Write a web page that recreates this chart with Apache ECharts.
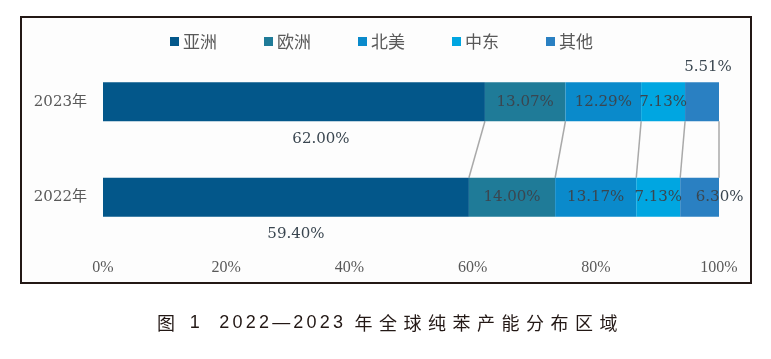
<!DOCTYPE html>
<html><head><meta charset="utf-8">
<script src="https://cdn.jsdelivr.net/npm/echarts@6/dist/echarts.min.js"></script>
<style>html,body{margin:0;padding:0;background:#fff}#c{width:771px;height:359px}</style>
</head><body><div id="c"></div>
<script>
var years = ['2022年', '2023年'];
var regions = ['亚洲', '欧洲', '北美', '中东', '其他'];
var share2022 = [59.40, 14.00, 13.17, 7.13, 6.30];
var share2023 = [62.00, 13.07, 12.29, 7.13, 5.51];
var xTicks = [0, 20, 40, 60, 80, 100];
var colors = ['#03578a', '#1f7b98', '#0a8acb', '#00a6e1', '#2a80c2'];
var caption = '图 1  2022—2023 年全球纯苯产能分布区域';

var chart = echarts.init(document.getElementById('c'));
var serif = '"DejaVu Serif","Noto Sans CJK SC",serif';
var labelColor = '#3a4650';

function cum(arr){ var s=0, out=[]; arr.forEach(function(v){ s+=v; out.push(+s.toFixed(2)); }); return out; }
var c22 = cum(share2022), c23 = cum(share2023);
var links = c22.map(function(v,i){ return [v, c23[i]]; });

var series = regions.map(function(name, i){
  var d22 = {value: share2022[i]}, d23 = {value: share2023[i]};
  if (i === 0) {
    d22.label = {position: 'bottom', distance: 10, offset: [10, 0]};
    d23.label = {position: 'bottom', distance: 10, offset: [27, 0]};
  }
  if (i === 4) {
    d23.label = {position: 'top', distance: 8, offset: [6, 0]};
    d22.label = {offset: [20, 0]};
  }
  return {
    name: name, type: 'bar', stack: 'all', barWidth: 39,
    itemStyle: {color: colors[i]},
    label: {show: true, position: 'inside', color: labelColor, fontFamily: serif, fontSize: 15,
      formatter: function(p){ return p.value.toFixed(2) + '%'; }},
    data: [d22, d23]
  };
});

series.push({
  type: 'custom', silent: true, z: 1,
  renderItem: function(params, api){
    var half = 19.5;
    var pTop = api.coord([api.value(1), 1]);
    var pBot = api.coord([api.value(0), 0]);
    return {type: 'line', shape: {x1: pTop[0], y1: pTop[1] + half, x2: pBot[0], y2: pBot[1] - half},
      style: {stroke: '#a9a9a9', lineWidth: 1.5}};
  },
  encode: {x: [0, 1]},
  data: links
});

// caption characters
var capEls = [];
var cv = document.createElement('canvas').getContext('2d');
var cx = 157;
for (var k = 0; k < caption.length; k++) {
  var ch = caption[k];
  var isCJK = /[\u4e00-\u9fff]/.test(ch);
  var font = isCJK ? '18px "Noto Sans CJK SC"' : '18px "Liberation Sans"';
  cv.font = font;
  var w = cv.measureText(ch).width;
  capEls.push({type: 'text', left: cx, top: 314, silent: true,
    style: {text: ch, font: font, fill: '#231815'}});
  cx += w + (isCJK ? 6.5 : 3.2);
}

chart.setOption({
  backgroundColor: '#ffffff',
  animation: false,
  color: colors,
  legend: {
    left: 165, top: 28, itemWidth: 9, itemHeight: 9, itemGap: 47,
    icon: 'rect',
    textStyle: {color: '#595959', fontSize: 17, fontFamily: '"Noto Sans CJK SC",serif', padding: [0, 0, 0, -1]},
    data: regions
  },
  grid: {left: 103, right: 52, top: 54, bottom: 114},
  xAxis: {
    type: 'value', min: 0, max: 100, interval: 20,
    axisLine: {show: false}, axisTick: {show: false}, splitLine: {show: false},
    axisLabel: {margin: 15, color: '#595959', fontSize: 16, fontFamily: '"Liberation Serif",serif',
      formatter: function(v){ return xTicks.indexOf(v) >= 0 ? v + '%' : ''; }}
  },
  yAxis: {
    type: 'category', data: years,
    axisLine: {show: false}, axisTick: {show: false},
    axisLabel: {margin: 16, color: '#595959', fontSize: 15, fontFamily: serif}
  },
  graphic: [
    {type: 'rect', silent: true, z: -1, shape: {x: 21, y: 17, width: 730, height: 266},
      style: {fill: '#fdfdfd', stroke: '#231815', lineWidth: 2}}
  ].concat(capEls),
  series: series
});
</script></body></html>
